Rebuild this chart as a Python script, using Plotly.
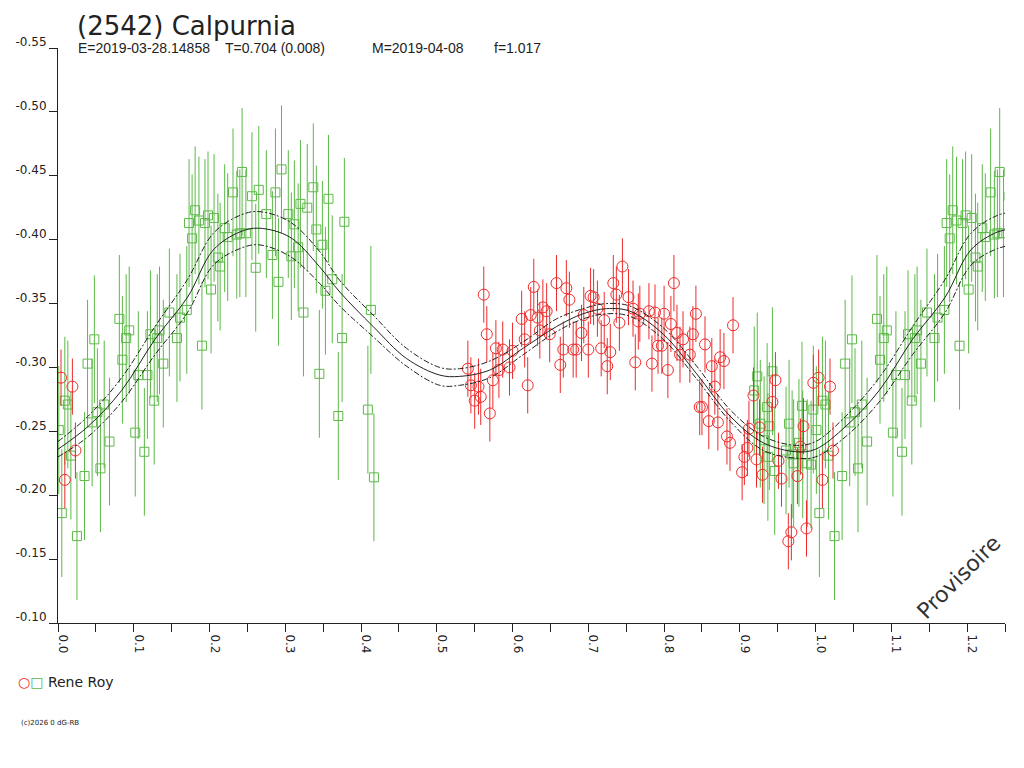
import numpy as np
import plotly.graph_objects as go

# phase / reduced magnitude (phases kept in [0, 1))
green_phase = [0.001, 0.005, 0.009, 0.013, 0.017, 0.025, 0.035, 0.039, 0.045, 0.048,
               0.052, 0.056, 0.061, 0.068, 0.081, 0.085, 0.090, 0.094, 0.102, 0.106,
               0.114, 0.118, 0.122, 0.127, 0.131, 0.134, 0.139, 0.147, 0.157, 0.161,
               0.170, 0.173, 0.177, 0.181, 0.186, 0.190, 0.194, 0.198, 0.202, 0.206,
               0.211, 0.214, 0.220, 0.224, 0.231, 0.236, 0.240, 0.243, 0.248, 0.256,
               0.261, 0.265, 0.275, 0.283, 0.287, 0.291, 0.295, 0.304, 0.308, 0.312,
               0.317, 0.320, 0.324, 0.329, 0.337, 0.341, 0.345, 0.349, 0.353, 0.357,
               0.362, 0.370, 0.375, 0.378, 0.409, 0.413, 0.417,
               0.919, 0.923, 0.927, 0.932, 0.936, 0.937, 0.939, 0.943, 0.946, 0.961,
               0.965, 0.969, 0.971, 0.978, 0.982, 0.983, 0.989, 0.994, 0.997]
green_mag = [-0.251, -0.186, -0.274, -0.271, -0.231, -0.168, -0.215, -0.303, -0.257, -0.322,
             -0.265, -0.221, -0.271, -0.242, -0.338, -0.306, -0.323, -0.329, -0.249, -0.294,
             -0.234, -0.294, -0.326, -0.274, -0.323, -0.329, -0.303, -0.343, -0.323, -0.339,
             -0.345, -0.413, -0.401, -0.423, -0.415, -0.317, -0.413, -0.419, -0.361, -0.417,
             -0.386, -0.379, -0.409, -0.402, -0.437, -0.404, -0.405, -0.453, -0.405, -0.434,
             -0.378, -0.439, -0.420, -0.388, -0.437, -0.367, -0.455, -0.420, -0.387, -0.412,
             -0.394, -0.428, -0.343, -0.425, -0.441, -0.408, -0.295, -0.396, -0.360, -0.432,
             -0.369, -0.262, -0.323, -0.414, -0.267, -0.345, -0.214,
             -0.282, -0.293, -0.256, -0.243, -0.269, -0.230, -0.254, -0.297, -0.219, -0.235,
             -0.256, -0.232, -0.225, -0.241, -0.270, -0.232, -0.225, -0.224, -0.267]
green_err = 0.050

red_phase = [0.004, 0.009, 0.019, 0.023, 0.541, 0.545, 0.550, 0.555, 0.558, 0.562,
             0.566, 0.570, 0.574, 0.578, 0.582, 0.587, 0.596, 0.600, 0.612, 0.616,
             0.620, 0.624, 0.628, 0.633, 0.636, 0.640, 0.645, 0.649, 0.658, 0.663,
             0.667, 0.671, 0.675, 0.680, 0.684, 0.691, 0.694, 0.700, 0.703, 0.707,
             0.712, 0.717, 0.721, 0.725, 0.729, 0.733, 0.737, 0.741, 0.745, 0.753,
             0.759, 0.762, 0.766, 0.768, 0.780, 0.784, 0.788, 0.792, 0.797, 0.800,
             0.805, 0.809, 0.813, 0.817, 0.821, 0.825, 0.834, 0.838, 0.842, 0.847,
             0.850, 0.854, 0.859, 0.863, 0.867, 0.871, 0.874, 0.879, 0.883, 0.887,
             0.891, 0.903, 0.906, 0.910, 0.912, 0.918, 0.922, 0.926, 0.930, 0.943,
             0.947, 0.951, 0.955, 0.964, 0.968, 0.976, 0.980, 0.984, 0.988, 0.997]
red_mag = [-0.292, -0.212, -0.285, -0.235, -0.299, -0.286, -0.274, -0.285, -0.277, -0.357,
           -0.326, -0.264, -0.290, -0.315, -0.298, -0.314, -0.300, -0.313, -0.338, -0.322,
           -0.286, -0.341, -0.363, -0.339, -0.329, -0.347, -0.344, -0.326, -0.366, -0.302,
           -0.314, -0.362, -0.353, -0.314, -0.314, -0.327, -0.341, -0.314, -0.356, -0.355,
           -0.346, -0.315, -0.337, -0.301, -0.312, -0.366, -0.357, -0.335, -0.379, -0.355,
           -0.346, -0.304, -0.336, -0.342, -0.344, -0.303, -0.343, -0.317, -0.317, -0.342,
           -0.298, -0.334, -0.366, -0.327, -0.310, -0.322, -0.310, -0.326, -0.342, -0.269,
           -0.269, -0.318, -0.258, -0.301, -0.285, -0.257, -0.308, -0.305, -0.246, -0.241,
           -0.333, -0.218, -0.230, -0.237, -0.252, -0.278, -0.228, -0.253, -0.216, -0.273,
           -0.290, -0.227, -0.213, -0.164, -0.171, -0.215, -0.238, -0.254, -0.174, -0.288]
red_err = 0.022

# fitted curve and its envelope, read at a few phases
curve_phase = [0.000, 0.040, 0.084, 0.128, 0.171, 0.205, 0.240, 0.265, 0.306, 0.345,
               0.372, 0.416, 0.460, 0.504, 0.530, 0.570, 0.614, 0.658, 0.693, 0.724,
               0.755, 0.799, 0.843, 0.887, 0.931, 0.975]
curve_mid = [-0.236, -0.254, -0.282, -0.322, -0.355, -0.392, -0.406, -0.409, -0.402, -0.379,
             -0.359, -0.332, -0.307, -0.294, -0.293, -0.298, -0.315, -0.332, -0.342, -0.346,
             -0.344, -0.326, -0.295, -0.262, -0.241, -0.234]
curve_hi = [-0.242, -0.262, -0.292, -0.332, -0.369, -0.405, -0.419, -0.422, -0.414, -0.391,
            -0.368, -0.341, -0.315, -0.300, -0.299, -0.305, -0.320, -0.338, -0.346, -0.350,
            -0.348, -0.331, -0.301, -0.267, -0.246, -0.239]
curve_lo = [-0.230, -0.246, -0.273, -0.310, -0.343, -0.380, -0.393, -0.396, -0.387, -0.366,
            -0.348, -0.324, -0.301, -0.286, -0.286, -0.292, -0.310, -0.328, -0.338, -0.342,
            -0.340, -0.322, -0.291, -0.258, -0.235, -0.229]

y_ticks = [-0.55, -0.50, -0.45, -0.40, -0.35, -0.30, -0.25, -0.20, -0.15, -0.10]
y_labels = ["-0.55", "-0.50", "-0.45", "-0.40", "-0.35", "-0.30", "-0.25", "-0.20", "-0.15", "-0.10"]
x_ticks = [0.0, 0.1, 0.2, 0.3, 0.4, 0.5, 0.6, 0.7, 0.8, 0.9, 1.0, 1.1, 1.2]
x_labels = ["0.0", "0.1", "0.2", "0.3", "0.4", "0.5", "0.6", "0.7", "0.8", "0.9", "1.0", "1.1", "1.2"]
x_minor = [0.05, 0.15, 0.25, 0.35, 0.45, 0.55, 0.65, 0.75, 0.85, 0.95, 1.05, 1.15, 1.25]

GREEN = "#5cb947"
RED = "#ee2b2b"
INK = "#222222"
FONT = "DejaVu Sans"
HEAD = "Liberation Sans"

# the page body adds an 8px margin, so the figure is drawn 8px smaller
PAGE_PAD = 8
W, H = 1024 - PAGE_PAD, 768 - PAGE_PAD
L, R, T, B = 58 - PAGE_PAD, 19, 48 - PAGE_PAD, 145


def wrap(phase, *cols, limit=1.27):
    # the plot repeats the start of the cycle after phase 1
    p = np.asarray(phase, dtype=float)
    keep = p + 1.0 <= limit
    out = [np.concatenate([p, p[keep] + 1.0])]
    for c in cols:
        c = np.asarray(c, dtype=float)
        out.append(np.concatenate([c, c[keep]]))
    return out


def px(x):
    return (x - PAGE_PAD - L) / (W - L - R)


def py(y):
    return (H - B - (y - PAGE_PAD)) / (H - T - B)


def note(text, x, y, size, font=HEAD, **kw):
    return dict(text=text, x=px(x), y=py(y), xref="paper", yref="paper",
                xanchor=kw.pop("xanchor", "left"), yanchor=kw.pop("yanchor", "middle"),
                showarrow=False,
                font=dict(family=font, size=size, color=kw.pop("color", INK)), **kw)


gx, gy = wrap(green_phase, green_mag)
rx, ry = wrap(red_phase, red_mag)
cx, cmid, chi, clo = wrap(curve_phase, curve_mid, curve_hi, curve_lo, limit=1.30)

fig = go.Figure()
fig.add_trace(go.Scatter(
    x=gx, y=gy, mode="markers",
    marker=dict(symbol="square-open", size=9, color=GREEN, line=dict(width=1, color=GREEN)),
    error_y=dict(type="constant", value=green_err, color=GREEN, thickness=1, width=0),
    showlegend=False,
))
fig.add_trace(go.Scatter(
    x=rx, y=ry, mode="markers",
    marker=dict(symbol="circle-open", size=11, color=RED, line=dict(width=1, color=RED)),
    error_y=dict(type="constant", value=red_err, color=RED, thickness=1, width=0),
    showlegend=False,
))
for ys, dash in [(chi, "6px,2px,2px,2px"), (cmid, "solid"), (clo, "6px,2px,2px,2px")]:
    fig.add_trace(go.Scatter(
        x=cx, y=ys, mode="lines",
        line=dict(color=INK, width=1, dash=dash, shape="spline"),
        showlegend=False, hoverinfo="skip",
    ))

fig.update_layout(
    width=W, height=H, autosize=False,
    margin=dict(l=L, r=R, t=T, b=B, autoexpand=False),
    paper_bgcolor="white", plot_bgcolor="white",
    font=dict(family=FONT, size=12, color=INK),
    showlegend=False,
    xaxis=dict(
        range=[0, 1.25], showgrid=False, zeroline=False, automargin=False,
        showline=True, linecolor=INK, linewidth=1,
        tickmode="array", tickvals=x_ticks, ticktext=x_labels, tickangle=90,
        ticks="outside", ticklen=8, tickcolor=INK, tickfont=dict(size=12, color=INK),
        ticklabelshift=5,
        minor=dict(tickmode="array", tickvals=x_minor, ticks="outside", ticklen=8, tickcolor=INK),
    ),
    yaxis=dict(
        range=[-0.10, -0.55], showgrid=False, zeroline=False, automargin=False,
        showline=True, linecolor=INK, linewidth=1,
        tickmode="array", tickvals=y_ticks, ticktext=y_labels,
        ticks="outside", ticklen=8, tickcolor=INK, tickfont=dict(size=12, color=INK),
        ticklabelshift=6,
    ),
    annotations=[
        note("(2542) Calpurnia", 75, 9, 26, font=FONT, yanchor="top"),
        note("E=2019-03-28.14858", 76, 48, 14),
        note("T=0.704 (0.008)", 223, 48, 14),
        note("M=2019-04-08", 370, 48, 14),
        note("f=1.017", 492, 48, 14),
        note("Provisoire", 958, 577, 22, font=FONT, xanchor="center", textangle=-45,
             color="#333333"),
        note(f"<span style='color:{RED}'>○</span><span style='color:{GREEN}'>□</span> Rene Roy",
             16, 682, 14, font=FONT),
        note("(c)2026 0 dG-RB", 19, 723, 7, font=FONT),
    ],
)

fig.write_html("out.html")
